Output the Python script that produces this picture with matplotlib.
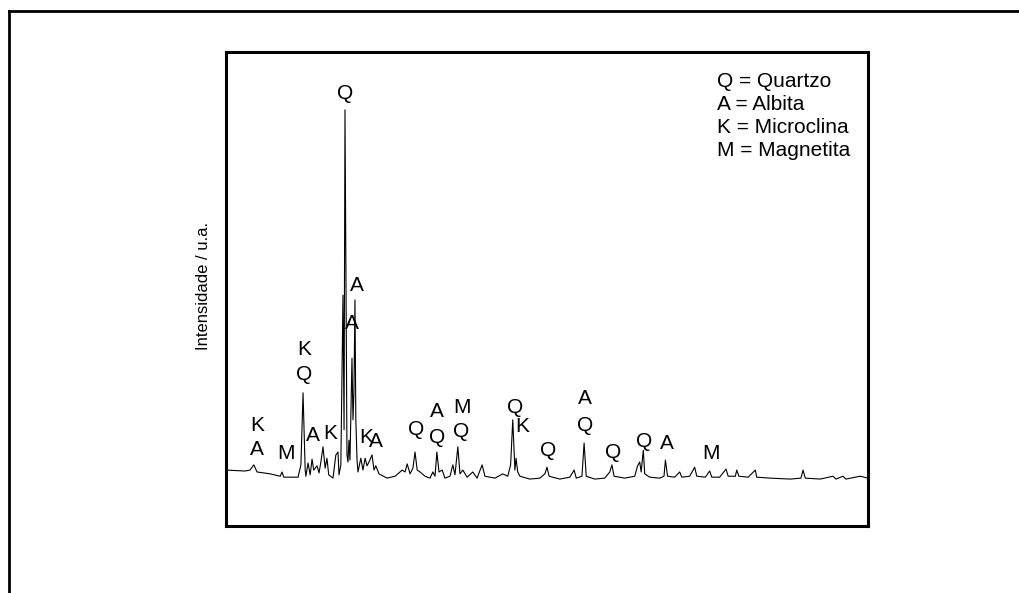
import matplotlib
matplotlib.use("Agg")
import matplotlib.pyplot as plt
from matplotlib.lines import Line2D

plt.rcParams['font.family'] = ['Liberation Sans', 'DejaVu Sans']

# Diffractogram trace: 2-theta (degrees) and intensity (counts)
two_theta = [
    10.0, 12.66, 13.36, 13.9, 14.35, 16.2, 17.6, 17.85, 18.1, 20.1,
    20.5, 20.8, 21.1, 21.2, 21.5, 21.8, 22.06, 22.3, 22.76, 23.04,
    23.3, 23.6, 23.9, 24.15, 24.4, 25.0, 25.4, 25.7, 25.84, 26.1,
    26.4, 26.55, 26.68, 26.77, 26.96, 27.1, 27.24, 27.38, 27.66, 27.8,
    27.94, 28.08, 28.2, 28.37, 28.5, 28.9, 29.2, 29.5, 29.77, 30.05,
    30.47, 30.75, 31.0, 31.45, 32.57, 33.7, 34.7, 35.1, 35.4, 35.8,
    36.2, 36.5, 36.8, 37.2, 37.9, 38.6, 39.0, 39.3, 39.56, 39.86,
    40.3, 40.7, 41.4, 41.8, 42.1, 42.5, 42.8, 43.2, 43.8, 44.6,
    45.2, 45.9, 46.3, 47.7, 48.8, 49.5, 49.9, 50.2, 50.5, 50.66,
    50.9, 51.2, 52.6, 54.0, 54.7, 55.0, 55.3, 56.8, 58.2, 58.8,
    59.1, 59.9, 60.2, 60.5, 61.7, 63.1, 63.8, 64.1, 64.4, 65.9,
    67.3, 67.7, 68.0, 68.2, 68.5, 68.7, 69.4, 70.8, 71.4, 71.6,
    71.9, 72.9, 73.6, 73.9, 75.0, 75.7, 76.0, 77.2, 77.8, 78.1,
    79.2, 80.1, 80.4, 81.4, 81.6, 81.9, 83.2, 84.2, 84.4, 86.3,
    89.1, 90.6, 90.9, 91.2, 93.3, 95.1, 95.5, 96.5, 96.9, 98.9,
    100.0,
]
intensity = [
    118, 116, 118, 129, 114, 110, 105, 114, 103, 103,
    129, 281, 118, 105, 133, 108, 141, 118, 127, 112,
    135, 167, 122, 143, 108, 101, 150, 156, 108, 129,
    487, 203, 878, 650, 150, 135, 181, 139, 354, 224,
    287, 477, 224, 139, 114, 143, 118, 143, 127, 135,
    150, 118, 127, 110, 101, 105, 118, 114, 131, 110,
    122, 156, 118, 114, 105, 101, 114, 105, 156, 114,
    118, 101, 105, 129, 108, 167, 110, 118, 103, 114,
    101, 129, 105, 101, 110, 105, 129, 224, 118, 143,
    114, 105, 99, 101, 110, 124, 105, 99, 103, 118,
    101, 105, 175, 105, 99, 101, 114, 129, 105, 101,
    105, 127, 135, 114, 160, 110, 103, 101, 105, 139,
    105, 103, 114, 103, 105, 124, 105, 103, 116, 103,
    103, 120, 105, 105, 118, 105, 103, 118, 103, 101,
    99, 101, 118, 101, 99, 105, 99, 105, 99, 105,
    101,
]

# Phase identification marks above the reflections
label_text = ['K', 'A', 'M', 'K', 'Q', 'A', 'K', 'Q', 'A', 'A',
              'K', 'A', 'Q', 'A', 'Q', 'M', 'Q', 'Q', 'K', 'Q',
              'A', 'Q', 'Q', 'Q', 'A', 'M']
label_2theta = [14.35, 14.35, 18.4, 20.9, 20.9, 22.2, 24.6, 26.7, 28.4, 27.7,
                29.6, 31.0, 36.6, 39.6, 39.6, 43.1, 42.9, 50.5, 51.6, 55.1,
                60.3, 60.3, 64.25, 68.6, 71.8, 78.0]
label_level = [211, 162, 152, 373, 319, 190, 196, 912, 508, 428,
               186, 179, 203, 241, 186, 249, 200, 249, 209, 160,
               268, 213, 156, 179, 173, 152]

legend_lines = ['Q = Quartzo', 'A = Albita', 'K = Microclina', 'M = Magnetita']

fig = plt.figure(figsize=(10.2, 5.93), dpi=100)
ax = fig.add_axes([226 / 1020, 1 - 526 / 593, 642 / 1020, 474 / 593])

ax.plot(two_theta, intensity, color='black', linewidth=0.8)
ax.set_xlim(10, 100)
ax.set_ylim(0, 1000)
ax.set_xticks([])
ax.set_yticks([])
for s in ax.spines.values():
    s.set_linewidth(2.2)
ax.set_ylabel('Intensidade / u.a.', fontsize=12)
ax.yaxis.set_label_coords(-0.024, 0.506)

for t, x, y in zip(label_text, label_2theta, label_level):
    ax.text(x, y, t, fontsize=15, ha='center', va='center')

for i, line in enumerate(legend_lines):
    ax.text(0.765, 0.937 - i * 0.048, line, transform=ax.transAxes,
            fontsize=15, ha='left', va='center')

# Outer frame (top and left edges)
fig.add_artist(Line2D([9 / 1020, 9 / 1020], [0, 1 - 11 / 593],
                      transform=fig.transFigure, color='black', linewidth=2))
fig.add_artist(Line2D([9 / 1020, 1], [1 - 11 / 593, 1 - 11 / 593],
                      transform=fig.transFigure, color='black', linewidth=2))

fig.savefig('out.png', dpi=100)
